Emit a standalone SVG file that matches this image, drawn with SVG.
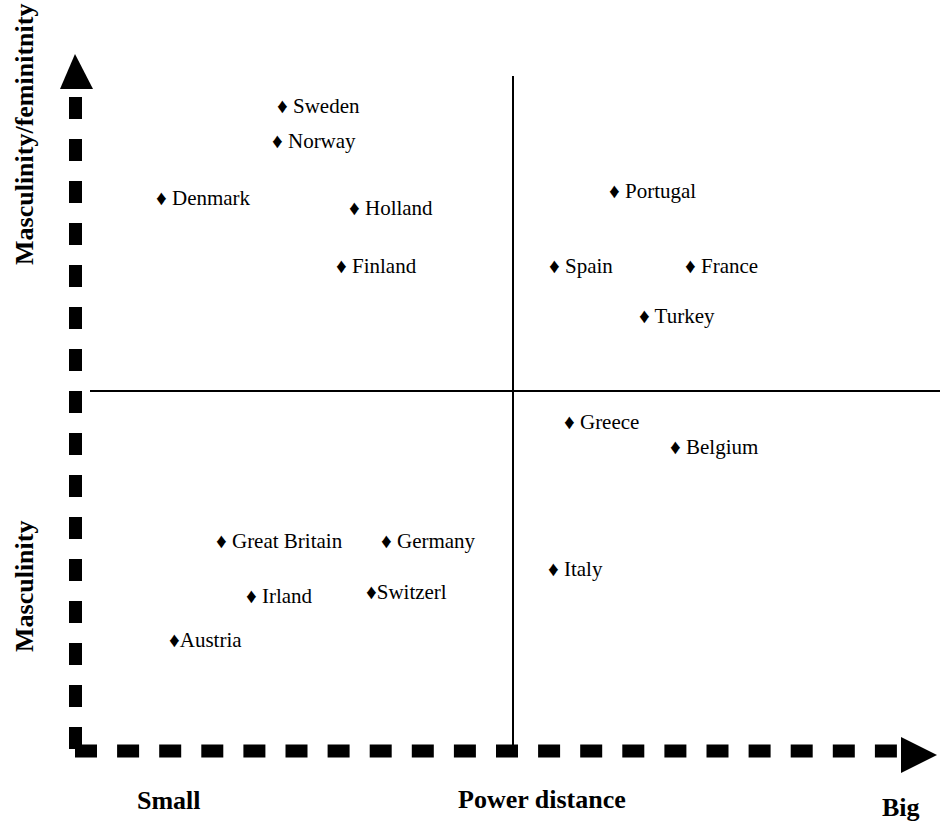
<svg xmlns="http://www.w3.org/2000/svg" width="940" height="821" viewBox="0 0 940 821">
<style>
.lbl{font-family:"Liberation Serif","Times New Roman",serif;font-size:21px;fill:#000}
.ttl{font-family:"Liberation Serif","Times New Roman",serif;font-size:26px;font-weight:bold;fill:#000}
.axis{stroke:#000;stroke-width:13;fill:none}
.grid{stroke:#000;stroke-width:2;fill:none}
</style>
<rect width="940" height="821" fill="#fff"/>
<g id="connectors">
<line class="grid" x1="513" y1="76" x2="513" y2="750"/>
<line class="grid" x1="90" y1="391" x2="940" y2="391"/>
<line class="axis" x1="75.5" y1="749" x2="75.5" y2="97" stroke-dasharray="22 20"/>
<polygon points="75,54 60,89 93,89" fill="#000"/>
<line class="axis" x1="75" y1="751" x2="897" y2="751" stroke-dasharray="22 20.1"/>
<polygon points="901,737 937,755 901,773" fill="#000"/>
</g>
<g id="titles">
<text class="ttl" transform="translate(33,265) rotate(-90)">Masculinity/feminitnity</text>
<text class="ttl" transform="translate(33,652) rotate(-90)">Masculinity</text>
<text class="ttl" x="137" y="809">Small</text>
<text class="ttl" x="458" y="808">Power distance</text>
<text class="ttl" x="882" y="816">Big</text>
</g>
<g id="n-sweden"><text class="lbl" x="277" y="113">♦ Sweden</text></g>
<g id="n-norway"><text class="lbl" x="272" y="148">♦ Norway</text></g>
<g id="n-denmark"><text class="lbl" x="156" y="205">♦ Denmark</text></g>
<g id="n-holland"><text class="lbl" x="349" y="215">♦ Holland</text></g>
<g id="n-finland"><text class="lbl" x="336" y="273">♦ Finland</text></g>
<g id="n-portugal"><text class="lbl" x="609" y="198">♦ Portugal</text></g>
<g id="n-spain"><text class="lbl" x="549" y="273">♦ Spain</text></g>
<g id="n-france"><text class="lbl" x="685" y="273">♦ France</text></g>
<g id="n-turkey"><text class="lbl" x="639" y="323">♦ Turkey</text></g>
<g id="n-greece"><text class="lbl" x="564" y="429">♦ Greece</text></g>
<g id="n-belgium"><text class="lbl" x="670" y="454">♦ Belgium</text></g>
<g id="n-italy"><text class="lbl" x="548" y="576">♦ Italy</text></g>
<g id="n-greatbritain"><text class="lbl" x="216" y="548">♦ Great Britain</text></g>
<g id="n-germany"><text class="lbl" x="381" y="548">♦ Germany</text></g>
<g id="n-irland"><text class="lbl" x="246" y="603">♦ Irland</text></g>
<g id="n-switzerl"><text class="lbl" x="366" y="599">♦Switzerl</text></g>
<g id="n-austria"><text class="lbl" x="169" y="647">♦Austria</text></g>
</svg>
